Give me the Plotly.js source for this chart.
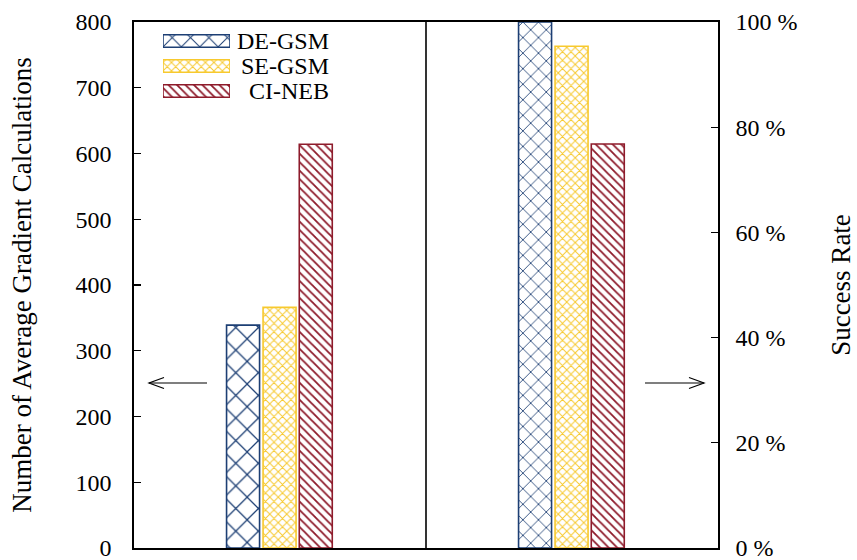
<!DOCTYPE html>
<html>
<head>
<meta charset="utf-8">
<script src="https://cdn.plot.ly/plotly-3.0.1.min.js"></script>
<style>html,body{margin:0;padding:0;background:#fff;}</style>
</head>
<body>
<div id="chart" style="width:857px;height:560px;"></div>
<script>
// Data
const methods = ["DE-GSM", "SE-GSM", "CI-NEB"];
const gradientCalcs = [339, 366, 614];      // left axis
const successRate = [100, 95.4, 76.8];      // right axis (%)
const groupPositions = [0.5, 1.5];          // left group, right group
const leftTicks = [0, 100, 200, 300, 400, 500, 600, 700, 800];
const rightTicks = [0, 20, 40, 60, 80, 100];
const rightTickText = rightTicks.map(v => v + " %");
const legendSlots = [2, 1, 0];              // legend row positions (top to bottom)

// Styles
const colors = ["#1d3f74", "#f7c92e", "#8e1b2b"];
const shapes = ["x", "x", "\\"];
const patSizeL = [16, 6, 6];
const patSizeR = [11, 6, 6];
const patSizeLeg = [13, 6, 6];
const solid = [0.15, 0.3, 0.3];
const offsets = [-0.183, -0.058, 0.066];
const barW = 0.113;
const font = "Liberation Serif, Times New Roman, serif";

function mk(i, size) {
  return {color: "white", line: {color: colors[i], width: 1.6},
    pattern: {shape: shapes[i], fgcolor: colors[i], bgcolor: "white", size: size, solidity: solid[i]}};
}

const traces = [];
methods.forEach((m, i) => {
  traces.push({type: "bar", name: m, x: [groupPositions[0]], y: [gradientCalcs[i]],
    offset: offsets[i], width: barW, xaxis: "x", yaxis: "y", marker: mk(i, patSizeL[i]), showlegend: false});
});
methods.forEach((m, i) => {
  traces.push({type: "bar", name: m, x: [groupPositions[1]], y: [successRate[i]],
    offset: offsets[i], width: barW, xaxis: "x", yaxis: "y2", marker: mk(i, patSizeR[i]), showlegend: false});
});
// legend swatches (horizontal bars on a small hidden axis)
methods.forEach((m, i) => {
  traces.push({type: "bar", orientation: "h", name: m, x: [1], y: [legendSlots[i]], width: 0.5,
    xaxis: "x2", yaxis: "y3", marker: mk(i, patSizeLeg[i]), showlegend: false});
});

// pixel -> paper helpers
function px(xp){return (xp-134)/584;}
function py(yp){return (548-yp)/526;}
const arrowLine = {color: "black", width: 1.2};
const shapesList = [
  {type: "line", xref: "x", yref: "paper", x0: 1, x1: 1, y0: 0, y1: 1, line: {color: "black", width: 1.6}},
  {type: "line", xref: "paper", yref: "paper", x0: px(207), x1: px(149), y0: py(383), y1: py(383), line: arrowLine},
  {type: "path", xref: "paper", yref: "paper",
   path: `M${px(164)},${py(377.5)} L${px(149)},${py(383)} L${px(164)},${py(388.5)}`, line: arrowLine},
  {type: "line", xref: "paper", yref: "paper", x0: px(645), x1: px(704), y0: py(383), y1: py(383), line: arrowLine},
  {type: "path", xref: "paper", yref: "paper",
   path: `M${px(689)},${py(377.5)} L${px(704)},${py(383)} L${px(689)},${py(388.5)}`, line: arrowLine}
];

const legendY = [41, 66, 91];
const annotations = methods.map((m, i) => ({
  text: m, xref: "paper", yref: "paper", x: px(331), y: py(legendY[i]),
  xanchor: "right", yanchor: "middle", showarrow: false,
  font: {family: font, size: 24, color: "black"}
}));

const layout = {
  width: 857, height: 560,
  margin: {l: 134, r: 139, t: 22, b: 12},
  paper_bgcolor: "white", plot_bgcolor: "white",
  font: {family: font, size: 24, color: "black"},
  showlegend: false,
  xaxis: {range: [0, 2], showticklabels: false, ticks: "", showgrid: false, zeroline: false,
    showline: true, linecolor: "black", linewidth: 1.6, mirror: true, fixedrange: true},
  xaxis2: {domain: [px(163), px(230)], range: [0, 1], visible: false, anchor: "y3"},
  yaxis3: {domain: [py(103.5), py(28.5)], range: [-0.5, 2.5], visible: false, anchor: "x2"},
  yaxis: {range: [0, 800], tickvals: leftTicks, ticks: "inside", ticklen: 7, tickwidth: 1.2, tickcolor: "black",
    showgrid: false, zeroline: false, showline: true, linecolor: "black", linewidth: 1.6,
    ticklabelstandoff: 16, ticklabeloverflow: "allow",
    tickfont: {family: font, size: 24, color: "black"},
    title: {text: "Number of Average Gradient Calculations", font: {family: font, size: 27, color: "black"}, standoff: 36}},
  yaxis2: {range: [0, 100], tickvals: rightTicks, ticktext: rightTickText, overlaying: "y", side: "right",
    ticks: "inside", ticklen: 7, tickwidth: 1.2, tickcolor: "black", showgrid: false, zeroline: false,
    showline: true, linecolor: "black", linewidth: 1.6,
    ticklabelstandoff: 11, ticklabeloverflow: "allow",
    tickfont: {family: font, size: 24, color: "black"},
    title: {text: "Success Rate", font: {family: font, size: 27, color: "black"}, standoff: 34}},
  shapes: shapesList,
  annotations: annotations,
  bargap: 0
};

Plotly.newPlot("chart", traces, layout, {displayModeBar: false, staticPlot: true});
</script>
</body>
</html>
